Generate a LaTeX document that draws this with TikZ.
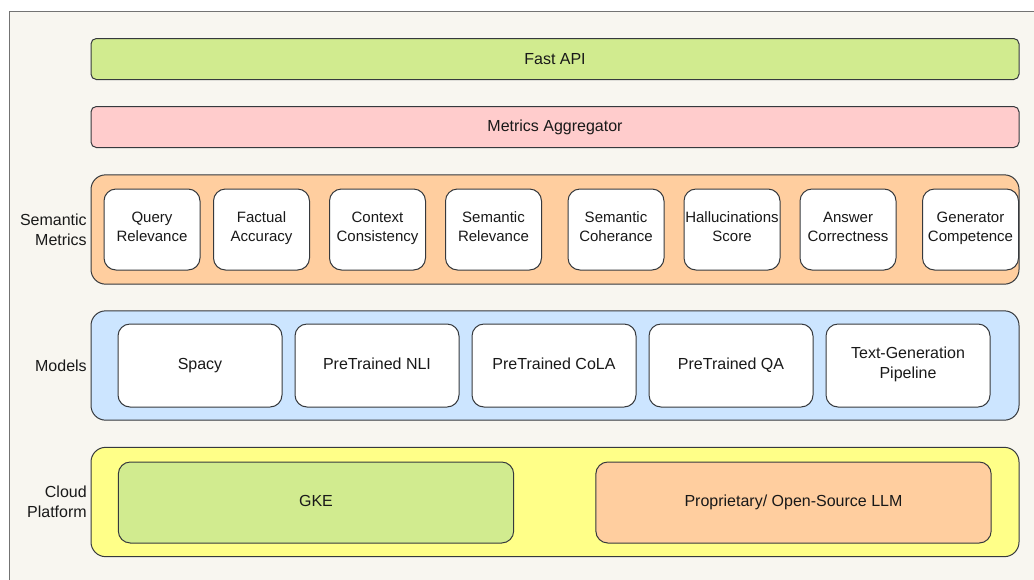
\documentclass[tikz,border=0pt]{standalone}
\usepackage{fontspec}
\setmainfont{Liberation Sans}
\usetikzlibrary{positioning}
\definecolor{paper}{HTML}{F8F6F0}
\definecolor{edge}{HTML}{36393D}
\definecolor{apigreen}{HTML}{D1EB8F}
\definecolor{aggpink}{HTML}{FFCCCC}
\definecolor{metorange}{HTML}{FFCE9F}
\definecolor{modblue}{HTML}{CCE5FF}
\definecolor{cloudyellow}{HTML}{FFFF88}
\tikzset{
  bar/.style={rectangle, rounded corners=4pt, minimum width=696pt, minimum height=30.75pt, inner sep=0pt, text centered, draw=edge, line width=0.75pt, font=\fontsize{12}{15}\selectfont},
  layer/.style={rectangle, rounded corners=11pt, minimum width=696pt, minimum height=82pt, inner sep=0pt, draw=edge, line width=0.75pt},
  mt/.style={rectangle, rounded corners=9pt, minimum width=72pt, minimum height=60.75pt, inner sep=0pt, align=center, draw=edge, fill=white, line width=0.75pt, font=\fontsize{11.25}{14.25}\selectfont, execute at end node=\strut},
  md/.style={rectangle, rounded corners=9pt, minimum width=123pt, minimum height=62.25pt, inner sep=0pt, align=center, draw=edge, fill=white, line width=0.75pt, font=\fontsize{12}{15}\selectfont, execute at begin node=\strut, execute at end node=\strut},
  cp/.style={rectangle, rounded corners=9pt, minimum width=296.5pt, minimum height=60.75pt, inner sep=0pt, align=center, draw=edge, line width=0.75pt, font=\fontsize{12}{15}\selectfont, execute at begin node=\strut},
  lbl/.style={anchor=east, align=right, inner sep=0pt, font=\fontsize{12}{15}\selectfont},
  node distance=9pt
}
\begin{document}
\begin{tikzpicture}[x=0.75pt, y=-0.75pt, text=black!90]
	\useasboundingbox (0,0) rectangle (1034,579);
	\draw[draw=black!55, fill=paper, line width=0.75pt] (9,11) rectangle (1045,590);
	%
	\node[bar, fill=apigreen] (api) at (555,59) {Fast API};
	\node[bar, fill=aggpink] (agg) at (555,127) {Metrics Aggregator};
	%
	\node[layer, fill=metorange] (semantic) at (555,229.5) {};
	\node[lbl] (semlbl) at (87,229.5) {Semantic\\Metrics};
	\node[mt] (query) at (152,229.5) {Query\\Relevance};
	\node[mt] (fact) at (261.5,229.5) {Factual\\Accuracy};
	\node[mt] (context) at (377.5,229.5) {Context\\Consistency};
	\node[mt] (semrel) at (493.5,229.5) {Semantic\\Relevance};
	\node[mt] (semcoh) at (616,229.5) {Semantic\\Coherance};
	\node[mt] (halluc) at (732,229.5) {Hallucinations\\Score};
	\node[mt] (answer) at (848,229.5) {Answer\\Correctness};
	\node[mt] (gen) at (970.5,229.5) {Generator\\Competence};
	%
	\node[layer, fill=modblue] (models) at (555,365.5) {};
	\node[lbl] (modlbl) at (87,365.5) {Models};
	\node[md] (spacy) at (200,365.5) {Spacy};
	\node[md, right=of spacy] (nli) {PreTrained NLI};
	\node[md, right=of nli] (cola) {PreTrained CoLA};
	\node[md, right=of cola] (qa) {PreTrained QA};
	\node[md, right=of qa] (textgen) {Text-Generation\\Pipeline};
	%
	\node[layer, fill=cloudyellow] (cloud) at (555,502) {};
	\node[lbl] (cloudlbl) at (87,502) {Cloud\\Platform};
	\node[cp, fill=apigreen] (gke) at (316,502.5) {GKE};
	\node[cp, fill=metorange] (llm) at (793.5,502.5) {Proprietary/ Open-Source LLM};
\end{tikzpicture}
\end{document}
